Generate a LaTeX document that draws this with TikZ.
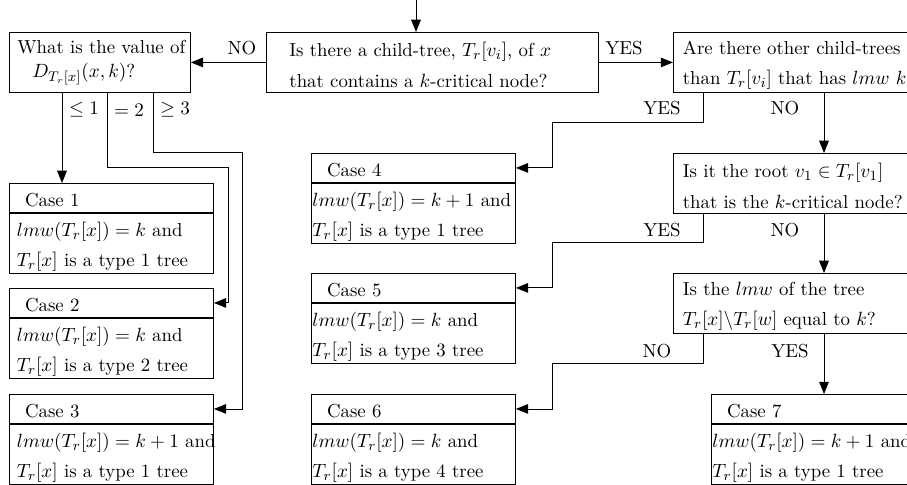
\documentclass[tikz,border=0pt]{standalone}
\usetikzlibrary{arrows.meta,calc}
\newcommand{\mystrut}[1]{\rule{0pt}{#1}}
\begin{document}
\begin{tikzpicture}[x=0.5714pt,y=-0.5714pt,
  font=\fontsize{10.75}{17.4}\selectfont,
  every node/.style={inner sep=0pt},
  dbox/.style={draw, line width=0.5pt, anchor=north west, minimum height=34.28pt, align=left, inner ysep=0pt},
  chead/.style={draw, line width=0.5pt, anchor=north west, minimum height=16.57pt, align=left, text width=98.8pt, inner xsep=8.9pt, inner ysep=0pt},
  cbodyL/.style={draw, line width=0.5pt, anchor=north west, minimum height=34.6pt, align=left, text width=108pt, inner xsep=4.3pt, inner ysep=0pt},
  cbodyM/.style={draw, line width=0.5pt, anchor=north west, minimum height=34.6pt, align=left, text width=115.4pt, inner xsep=0.6pt, inner ysep=0pt},
  arr/.style={line width=0.5pt, -{Triangle[length=7pt,width=5.5pt]}},
  lbl/.style={anchor=center}]
\useasboundingbox (0,0) rectangle (907,485);
\clip (0,0) rectangle (907,485);

% decision boxes
\node[dbox, text width=94.3pt, inner xsep=4.55pt, font=\fontsize{10.75}{13.7}\selectfont] (left) at (9,32)
  {\mbox{What is the value of}\\\mbox{\hspace*{8.5pt}$D_{T_r[x]}(x,k)$?}};
\node[dbox, text width=163.4pt, inner xsep=13.15pt] (main) at (266,32)
  {\mbox{\mystrut{11pt}Is there a child-tree, $T_r[v_i]$, of $x$}\\\mbox{that contains a $k$-critical node?}};
\node[dbox, text width=154.9pt, inner xsep=5.4pt] (r1) at (673,32)
  {\mbox{\mystrut{11pt}Are there other child-trees}\\\mbox{than $T_r[v_i]$ that has $lmw$ $k$?}};
\node[dbox, text width=154.9pt, inner xsep=5.4pt] (r2) at (673,153)
  {\mbox{\mystrut{11pt}Is it the root $v_1\in T_r[v_1]$}\\\mbox{that is the $k$-critical node?}};
\node[dbox, text width=154.9pt, inner xsep=5.4pt] (r3) at (673,273)
  {\mbox{\mystrut{11pt}Is the $lmw$ of the tree}\\\mbox{$T_r[x]\backslash T_r[w]$ equal to $k$?}};

% case boxes, left column
\node[chead] (c1h) at (9,183) {\mystrut{9.6pt}Case 1};
\node[cbodyL] (c1b) at (c1h.south west) {\mbox{\mystrut{12pt}$lmw(T_r[x])=k$ and}\\\mbox{$T_r[x]$ is a type 1 tree}};
\node[chead] (c2h) at (9,288) {\mystrut{9.6pt}Case 2};
\node[cbodyL] (c2b) at (c2h.south west) {\mbox{\mystrut{12pt}$lmw(T_r[x])=k$ and}\\\mbox{$T_r[x]$ is a type 2 tree}};
\node[chead] (c3h) at (9,394) {\mystrut{9.6pt}Case 3};
\node[cbodyL] (c3b) at (c3h.south west) {\mbox{\mystrut{12pt}$lmw(T_r[x])=k+1$ and}\\\mbox{$T_r[x]$ is a type 1 tree}};

% case boxes, middle column
\node[chead] (c4h) at (311,153) {\mystrut{9.6pt}Case 4};
\node[cbodyM] (c4b) at (c4h.south west) {\mbox{\mystrut{12pt}$lmw(T_r[x])=k+1$ and}\\\mbox{$T_r[x]$ is a type 1 tree}};
\node[chead] (c5h) at (311,273) {\mystrut{9.6pt}Case 5};
\node[cbodyM] (c5b) at (c5h.south west) {\mbox{\mystrut{12pt}$lmw(T_r[x])=k$ and}\\\mbox{$T_r[x]$ is a type 3 tree}};
\node[chead] (c6h) at (311,394) {\mystrut{9.6pt}Case 6};
\node[cbodyM] (c6b) at (c6h.south west) {\mbox{\mystrut{12pt}$lmw(T_r[x])=k$ and}\\\mbox{$T_r[x]$ is a type 4 tree}};

% case 7
\node[chead] (c7h) at (711,394) {\mystrut{9.6pt}Case 7};
\node[cbodyM] (c7b) at (c7h.south west) {\mbox{\mystrut{12pt}$lmw(T_r[x])=k+1$ and}\\\mbox{$T_r[x]$ is a type 1 tree}};

% helper coordinates
\coordinate (in) at (416,0);
\coordinate (yesx) at (703,0);
\coordinate (nox) at (824,0);
\coordinate (j1) at (552,122);
\coordinate (j2) at (552,242);
\coordinate (j3) at (552,363);
\coordinate (a1) at (62,0);
\coordinate (k2) at (107,167);
\coordinate (k2b) at (228,167);
\coordinate (k3) at (153,152);
\coordinate (k3b) at (242,152);

% connectors
\draw[arr] (in) -- (in |- main.north);
\draw[arr] (main.west) -- (left.east);
\draw[arr] (main.east) -- (r1.west);
\draw[arr] (r1.south -| yesx) |- (j1) |- (c4h.east);
\draw[arr] (r1.south -| nox) -- (r2.north -| nox);
\draw[arr] (r2.south -| yesx) |- (j2) |- (c5h.east);
\draw[arr] (r2.south -| nox) -- (r3.north -| nox);
\draw[arr] (r3.south -| yesx) |- (j3) |- (c6h.east);
\draw[arr] (r3.south -| nox) -- (c7h.north -| nox);
\draw[arr] (left.south -| a1) -- (c1h.north -| a1);
\draw[arr] (left.south -| k2) -- (k2) -- (k2b) |- (c2h.east);
\draw[arr] (left.south -| k3) -- (k3) -- (k3b) |- (c3h.east);

% labels
\node[lbl] (lno1) at (242,48) {NO};
\node[lbl] (lyes1) at (624,48) {YES};
\node[lbl] (lyes2) at (662,108) {YES};
\node[lbl] (lno2) at (785,108) {NO};
\node[lbl] (lyes3) at (662,230) {YES};
\node[lbl] (lno3) at (785,230) {NO};
\node[lbl] (lno4) at (657,351) {NO};
\node[lbl] (lyes4) at (790,351) {YES};
\node[lbl] (le1) at (84,110) {$\leq 1$};
\node[lbl] (le2) at (129,110) {$=2$};
\node[lbl] (le3) at (175,110) {$\geq 3$};
\end{tikzpicture}
\end{document}
